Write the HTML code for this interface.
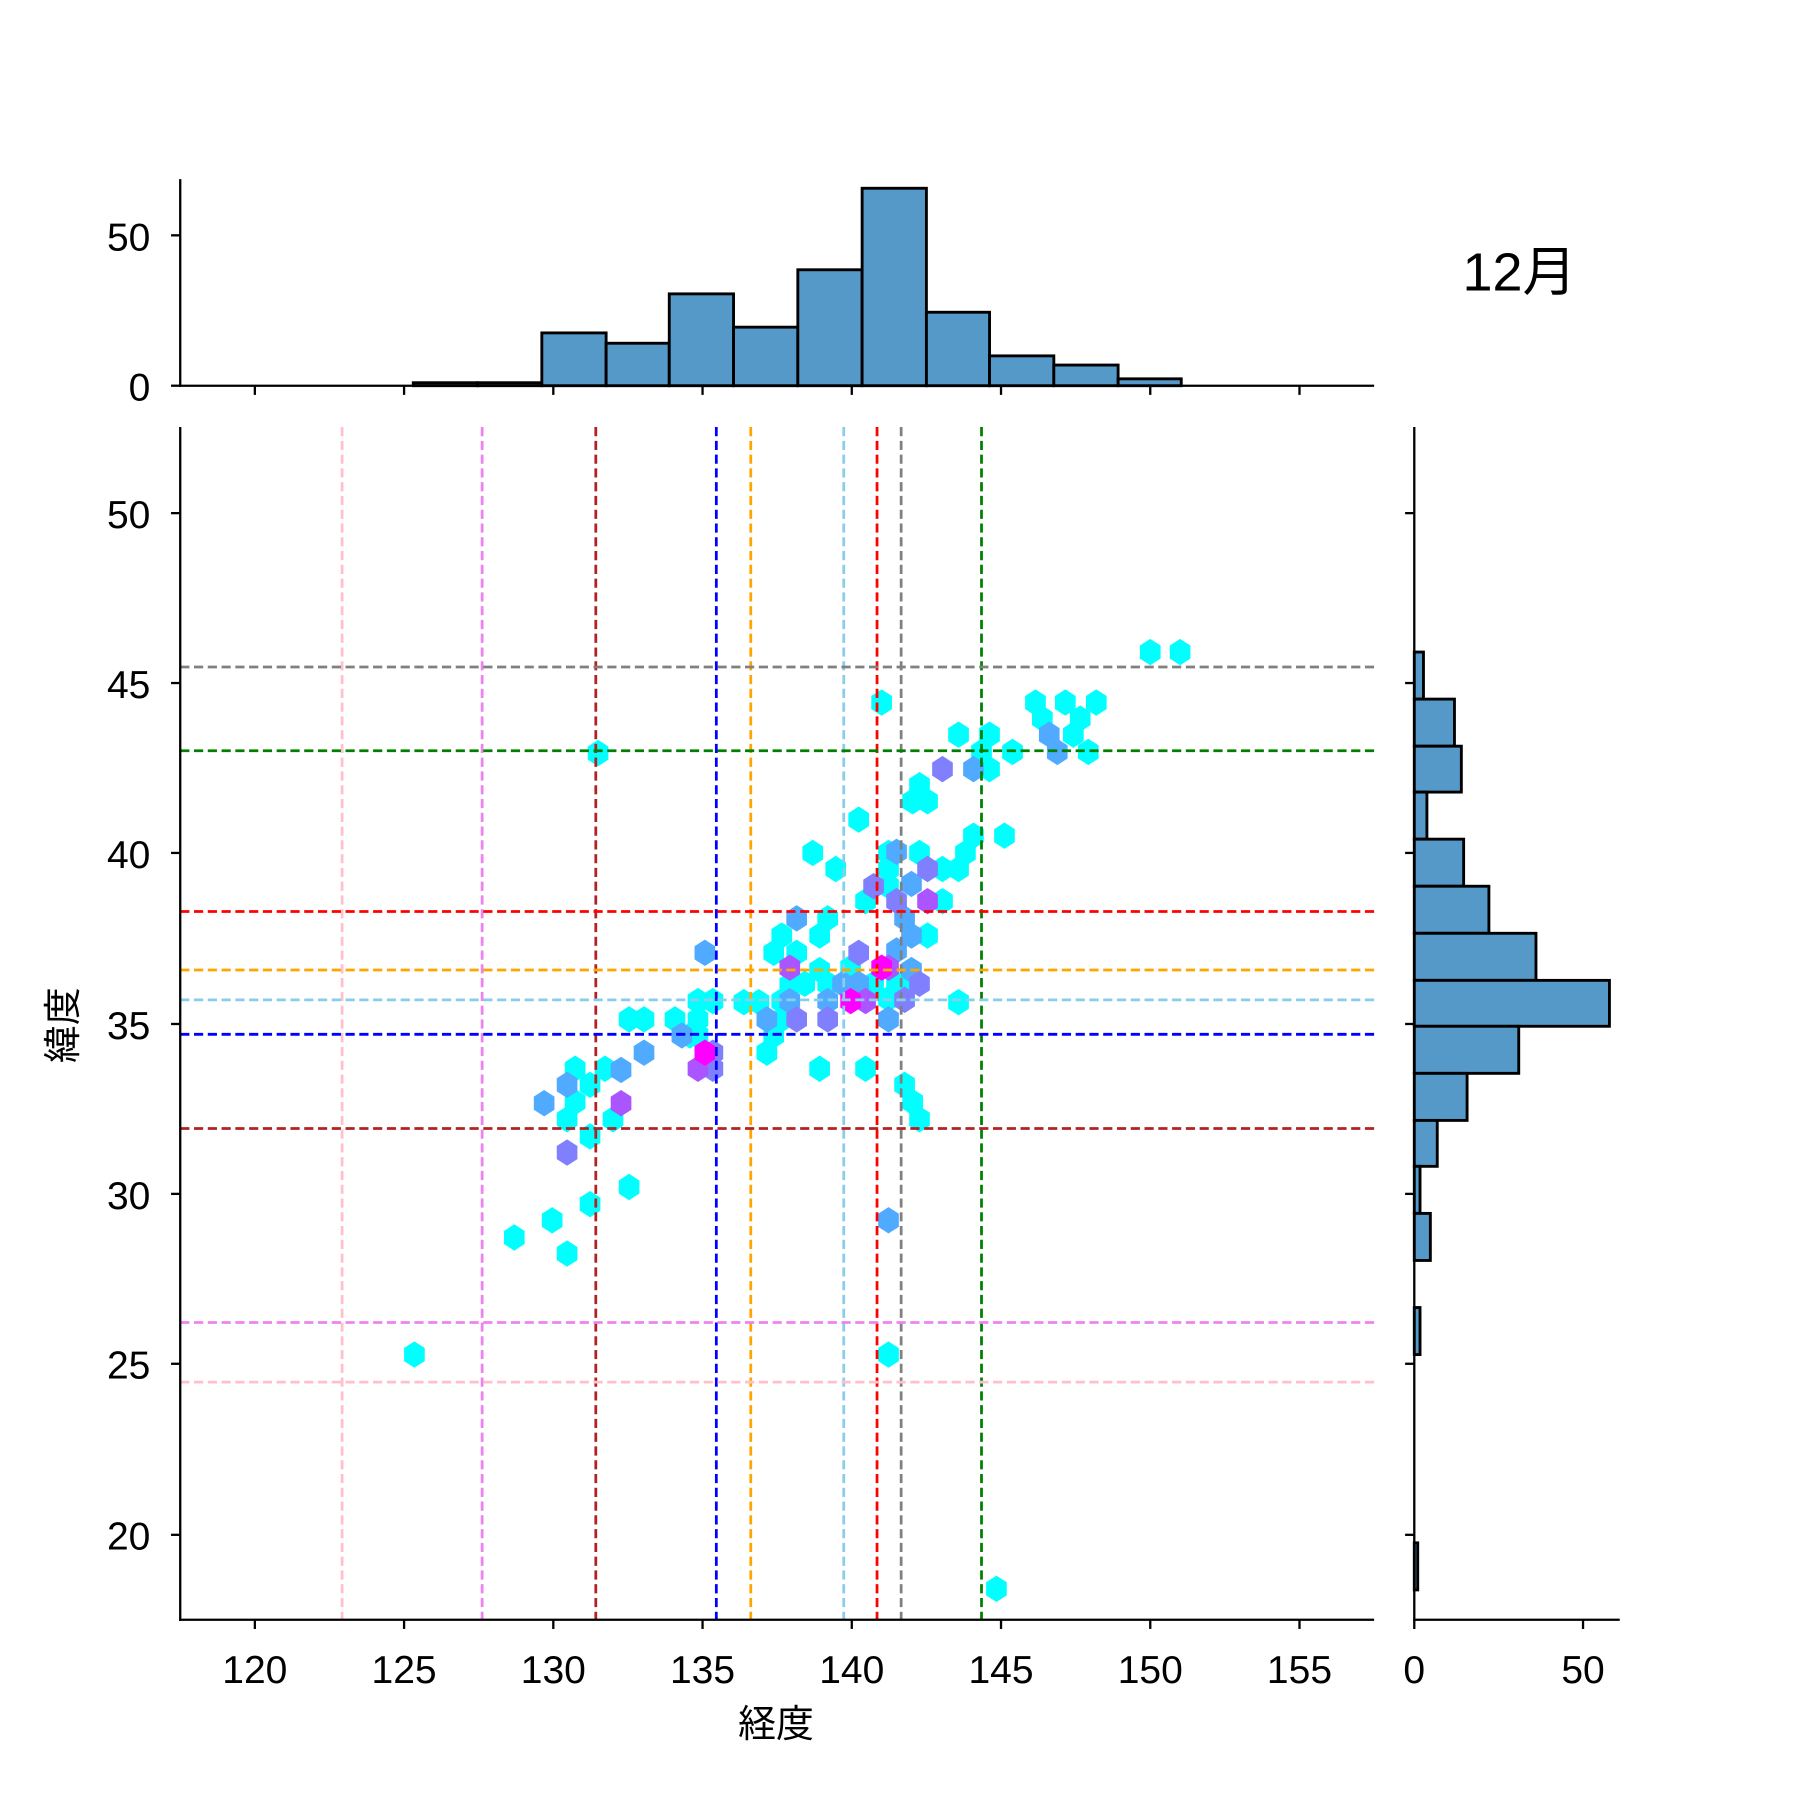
<!DOCTYPE html>
<html><head><meta charset="utf-8"><style>html,body{margin:0;padding:0;background:#fff}svg{display:block}</style></head>
<body>
<svg width="1800" height="1800" viewBox="0 0 1568 1568" xmlns="http://www.w3.org/2000/svg" font-family="Liberation Sans, Noto Sans CJK JP, sans-serif">
<defs><polygon id="h" points="0,-11.5 9,-5.7 9,5.7 0,11.5 -9,5.7 -9,-5.7"/></defs>
<rect width="1568" height="1568" fill="#fff"/>
<g fill="#5599c8" stroke="#000" stroke-width="2.5">
<rect x="360" y="333.4" width="56" height="2.6"/>
<rect x="416" y="333.4" width="56" height="2.6"/>
<rect x="472" y="290" width="56" height="46"/>
<rect x="528" y="299" width="55" height="37"/>
<rect x="583" y="256" width="56" height="80"/>
<rect x="639" y="285" width="56" height="51"/>
<rect x="695" y="235" width="56" height="101"/>
<rect x="751" y="164" width="56" height="172"/>
<rect x="807" y="272" width="55" height="64"/>
<rect x="862" y="310" width="56" height="26"/>
<rect x="918" y="318" width="56" height="18"/>
<rect x="974" y="330" width="55" height="6"/>
</g>
<g stroke="#000" stroke-width="2" fill="none">
<line x1="157" y1="156" x2="157" y2="337"/><line x1="156" y1="336" x2="1197" y2="336"/>
<line x1="149" y1="336" x2="157" y2="336"/><line x1="149" y1="205" x2="157" y2="205"/>
<line x1="222" y1="336" x2="222" y2="344"/><line x1="352" y1="336" x2="352" y2="344"/><line x1="482" y1="336" x2="482" y2="344"/><line x1="612" y1="336" x2="612" y2="344"/><line x1="742" y1="336" x2="742" y2="344"/><line x1="872" y1="336" x2="872" y2="344"/><line x1="1002" y1="336" x2="1002" y2="344"/><line x1="1132" y1="336" x2="1132" y2="344"/>
</g>
<g font-size="34" text-anchor="end" fill="#000">
<text x="131" y="218">50</text><text x="131" y="349">0</text>
</g>
<text x="1274" y="253" font-size="47">12月</text>
<g fill="#5599c8" stroke="#000" stroke-width="2.5">
<rect x="1232" y="568" width="8" height="41"/>
<rect x="1232" y="609" width="35" height="41"/>
<rect x="1232" y="650" width="41" height="40"/>
<rect x="1232" y="690" width="11" height="41"/>
<rect x="1232" y="731" width="43" height="41"/>
<rect x="1232" y="772" width="65" height="41"/>
<rect x="1232" y="813" width="106" height="41"/>
<rect x="1232" y="854" width="170" height="40"/>
<rect x="1232" y="894" width="91" height="41"/>
<rect x="1232" y="935" width="46" height="41"/>
<rect x="1232" y="976" width="20" height="40"/>
<rect x="1232" y="1016" width="5" height="41"/>
<rect x="1232" y="1057" width="14" height="41"/>
<rect x="1232" y="1139" width="5" height="41"/>
<rect x="1232" y="1344" width="3" height="41"/>
</g>
<g stroke="#000" stroke-width="2">
<line x1="1232" y1="372" x2="1232" y2="1419"/><line x1="1231" y1="1411" x2="1411" y2="1411"/>
<line x1="1379" y1="1411" x2="1379" y2="1419"/>
<line x1="1224" y1="447" x2="1232" y2="447"/><line x1="1224" y1="595" x2="1232" y2="595"/><line x1="1224" y1="743" x2="1232" y2="743"/><line x1="1224" y1="892" x2="1232" y2="892"/><line x1="1224" y1="1040" x2="1232" y2="1040"/><line x1="1224" y1="1188" x2="1232" y2="1188"/><line x1="1224" y1="1337" x2="1232" y2="1337"/>
</g>
<g font-size="34" text-anchor="middle"><text x="1232" y="1466">0</text><text x="1379" y="1466">50</text></g>
<g fill="#00ffff">
<use href="#h" x="1002" y="568"/><use href="#h" x="1028" y="568"/><use href="#h" x="768" y="612"/><use href="#h" x="902" y="612"/><use href="#h" x="928" y="612"/><use href="#h" x="955" y="612"/><use href="#h" x="908" y="626"/><use href="#h" x="941" y="626"/><use href="#h" x="935" y="640"/><use href="#h" x="948" y="655"/><use href="#h" x="835" y="640"/><use href="#h" x="862" y="640"/><use href="#h" x="855" y="655"/><use href="#h" x="862" y="670"/><use href="#h" x="882" y="655"/><use href="#h" x="521" y="656"/><use href="#h" x="801" y="684"/><use href="#h" x="795" y="698"/><use href="#h" x="808" y="698"/><use href="#h" x="748" y="714"/><use href="#h" x="848" y="728"/><use href="#h" x="875" y="728"/><use href="#h" x="708" y="743"/><use href="#h" x="774" y="743"/><use href="#h" x="801" y="743"/><use href="#h" x="841" y="743"/><use href="#h" x="728" y="757"/><use href="#h" x="774" y="757"/><use href="#h" x="821" y="757"/><use href="#h" x="835" y="757"/><use href="#h" x="754" y="785"/><use href="#h" x="774" y="772"/><use href="#h" x="821" y="785"/><use href="#h" x="714" y="815"/><use href="#h" x="721" y="800"/><use href="#h" x="681" y="815"/><use href="#h" x="694" y="830"/><use href="#h" x="808" y="815"/><use href="#h" x="674" y="830"/><use href="#h" x="714" y="845"/><use href="#h" x="688" y="858"/><use href="#h" x="741" y="843"/><use href="#h" x="781" y="857"/><use href="#h" x="788" y="857"/><use href="#h" x="761" y="857"/><use href="#h" x="721" y="857"/><use href="#h" x="701" y="857"/><use href="#h" x="681" y="872"/><use href="#h" x="661" y="873"/><use href="#h" x="648" y="873"/><use href="#h" x="608" y="872"/><use href="#h" x="621" y="872"/><use href="#h" x="835" y="873"/><use href="#h" x="548" y="888"/><use href="#h" x="561" y="888"/><use href="#h" x="588" y="888"/><use href="#h" x="608" y="888"/><use href="#h" x="601" y="902"/><use href="#h" x="668" y="917"/><use href="#h" x="714" y="931"/><use href="#h" x="754" y="931"/><use href="#h" x="788" y="945"/><use href="#h" x="795" y="960"/><use href="#h" x="801" y="975"/><use href="#h" x="501" y="931"/><use href="#h" x="514" y="945"/><use href="#h" x="501" y="960"/><use href="#h" x="494" y="975"/><use href="#h" x="527" y="931"/><use href="#h" x="534" y="975"/><use href="#h" x="514" y="990"/><use href="#h" x="548" y="1034"/><use href="#h" x="514" y="1049"/><use href="#h" x="481" y="1063"/><use href="#h" x="494" y="1092"/><use href="#h" x="448" y="1078"/><use href="#h" x="361" y="1180"/><use href="#h" x="774" y="1180"/><use href="#h" x="868" y="1384"/><use href="#h" x="681" y="888"/><use href="#h" x="674" y="902"/><use href="#h" x="774" y="870"/><use href="#h" x="608" y="902"/>
</g>
<g fill="#50aaff">
<use href="#h" x="614" y="830"/><use href="#h" x="694" y="800"/><use href="#h" x="788" y="800"/><use href="#h" x="794" y="770"/><use href="#h" x="781" y="742"/><use href="#h" x="474" y="961"/><use href="#h" x="494" y="945"/><use href="#h" x="541" y="932"/><use href="#h" x="561" y="917"/><use href="#h" x="594" y="902"/><use href="#h" x="774" y="1063"/><use href="#h" x="774" y="888"/><use href="#h" x="668" y="888"/><use href="#h" x="721" y="872"/><use href="#h" x="734" y="857"/><use href="#h" x="748" y="857"/><use href="#h" x="794" y="845"/><use href="#h" x="914" y="640"/><use href="#h" x="921" y="655"/><use href="#h" x="848" y="670"/><use href="#h" x="688" y="872"/><use href="#h" x="781" y="828"/><use href="#h" x="794" y="815"/>
</g>
<g fill="#8080ff">
<use href="#h" x="821" y="670"/><use href="#h" x="748" y="830"/><use href="#h" x="808" y="757"/><use href="#h" x="761" y="772"/><use href="#h" x="721" y="888"/><use href="#h" x="694" y="888"/><use href="#h" x="494" y="1004"/><use href="#h" x="621" y="917"/><use href="#h" x="621" y="931"/><use href="#h" x="788" y="871"/><use href="#h" x="801" y="857"/><use href="#h" x="781" y="785"/>
</g>
<g fill="#aa55ff">
<use href="#h" x="541" y="961"/><use href="#h" x="608" y="931"/><use href="#h" x="688" y="843"/><use href="#h" x="774" y="843"/><use href="#h" x="808" y="785"/><use href="#h" x="754" y="872"/>
</g>
<g fill="#ff00ff">
<use href="#h" x="614" y="917"/><use href="#h" x="741" y="872"/><use href="#h" x="768" y="843"/>
</g>
<g stroke-width="2.4" stroke-dasharray="8,4" fill="none">
<line x1="298" y1="372" x2="298" y2="1411" stroke="pink"/>
<line x1="420" y1="372" x2="420" y2="1411" stroke="violet"/>
<line x1="519" y1="372" x2="519" y2="1411" stroke="firebrick"/>
<line x1="624" y1="372" x2="624" y2="1411" stroke="blue"/>
<line x1="654" y1="372" x2="654" y2="1411" stroke="orange"/>
<line x1="735" y1="372" x2="735" y2="1411" stroke="skyblue"/>
<line x1="764" y1="372" x2="764" y2="1411" stroke="red"/>
<line x1="785" y1="372" x2="785" y2="1411" stroke="gray"/>
<line x1="855" y1="372" x2="855" y2="1411" stroke="green"/>
<line x1="157" y1="581" x2="1197" y2="581" stroke="gray"/>
<line x1="157" y1="654" x2="1197" y2="654" stroke="green"/>
<line x1="157" y1="794" x2="1197" y2="794" stroke="red"/>
<line x1="157" y1="845" x2="1197" y2="845" stroke="orange"/>
<line x1="157" y1="871" x2="1197" y2="871" stroke="skyblue"/>
<line x1="157" y1="901" x2="1197" y2="901" stroke="blue"/>
<line x1="157" y1="983" x2="1197" y2="983" stroke="firebrick"/>
<line x1="157" y1="1152" x2="1197" y2="1152" stroke="violet"/>
<line x1="157" y1="1204" x2="1197" y2="1204" stroke="pink"/>
</g>
<g stroke="#000" stroke-width="2">
<line x1="157" y1="372" x2="157" y2="1412"/><line x1="156" y1="1411" x2="1197" y2="1411"/>
<line x1="222" y1="1411" x2="222" y2="1419"/><line x1="352" y1="1411" x2="352" y2="1419"/><line x1="482" y1="1411" x2="482" y2="1419"/><line x1="612" y1="1411" x2="612" y2="1419"/><line x1="742" y1="1411" x2="742" y2="1419"/><line x1="872" y1="1411" x2="872" y2="1419"/><line x1="1002" y1="1411" x2="1002" y2="1419"/><line x1="1132" y1="1411" x2="1132" y2="1419"/>
<line x1="149" y1="447" x2="157" y2="447"/><line x1="149" y1="595" x2="157" y2="595"/><line x1="149" y1="743" x2="157" y2="743"/><line x1="149" y1="892" x2="157" y2="892"/><line x1="149" y1="1040" x2="157" y2="1040"/><line x1="149" y1="1188" x2="157" y2="1188"/><line x1="149" y1="1337" x2="157" y2="1337"/>
</g>
<g font-size="34" text-anchor="middle">
<text x="222" y="1466">120</text><text x="352" y="1466">125</text><text x="482" y="1466">130</text><text x="612" y="1466">135</text><text x="742" y="1466">140</text><text x="872" y="1466">145</text><text x="1002" y="1466">150</text><text x="1132" y="1466">155</text>
</g>
<g font-size="34" text-anchor="end">
<text x="131" y="460">50</text><text x="131" y="608">45</text><text x="131" y="756">40</text><text x="131" y="905">35</text><text x="131" y="1053">30</text><text x="131" y="1201">25</text><text x="131" y="1350">20</text>
</g>
<text x="676" y="1513" font-size="33" text-anchor="middle">経度</text>
<text transform="translate(66,893) rotate(-90)" font-size="33" text-anchor="middle">緯度</text>
</svg>
</body></html>
